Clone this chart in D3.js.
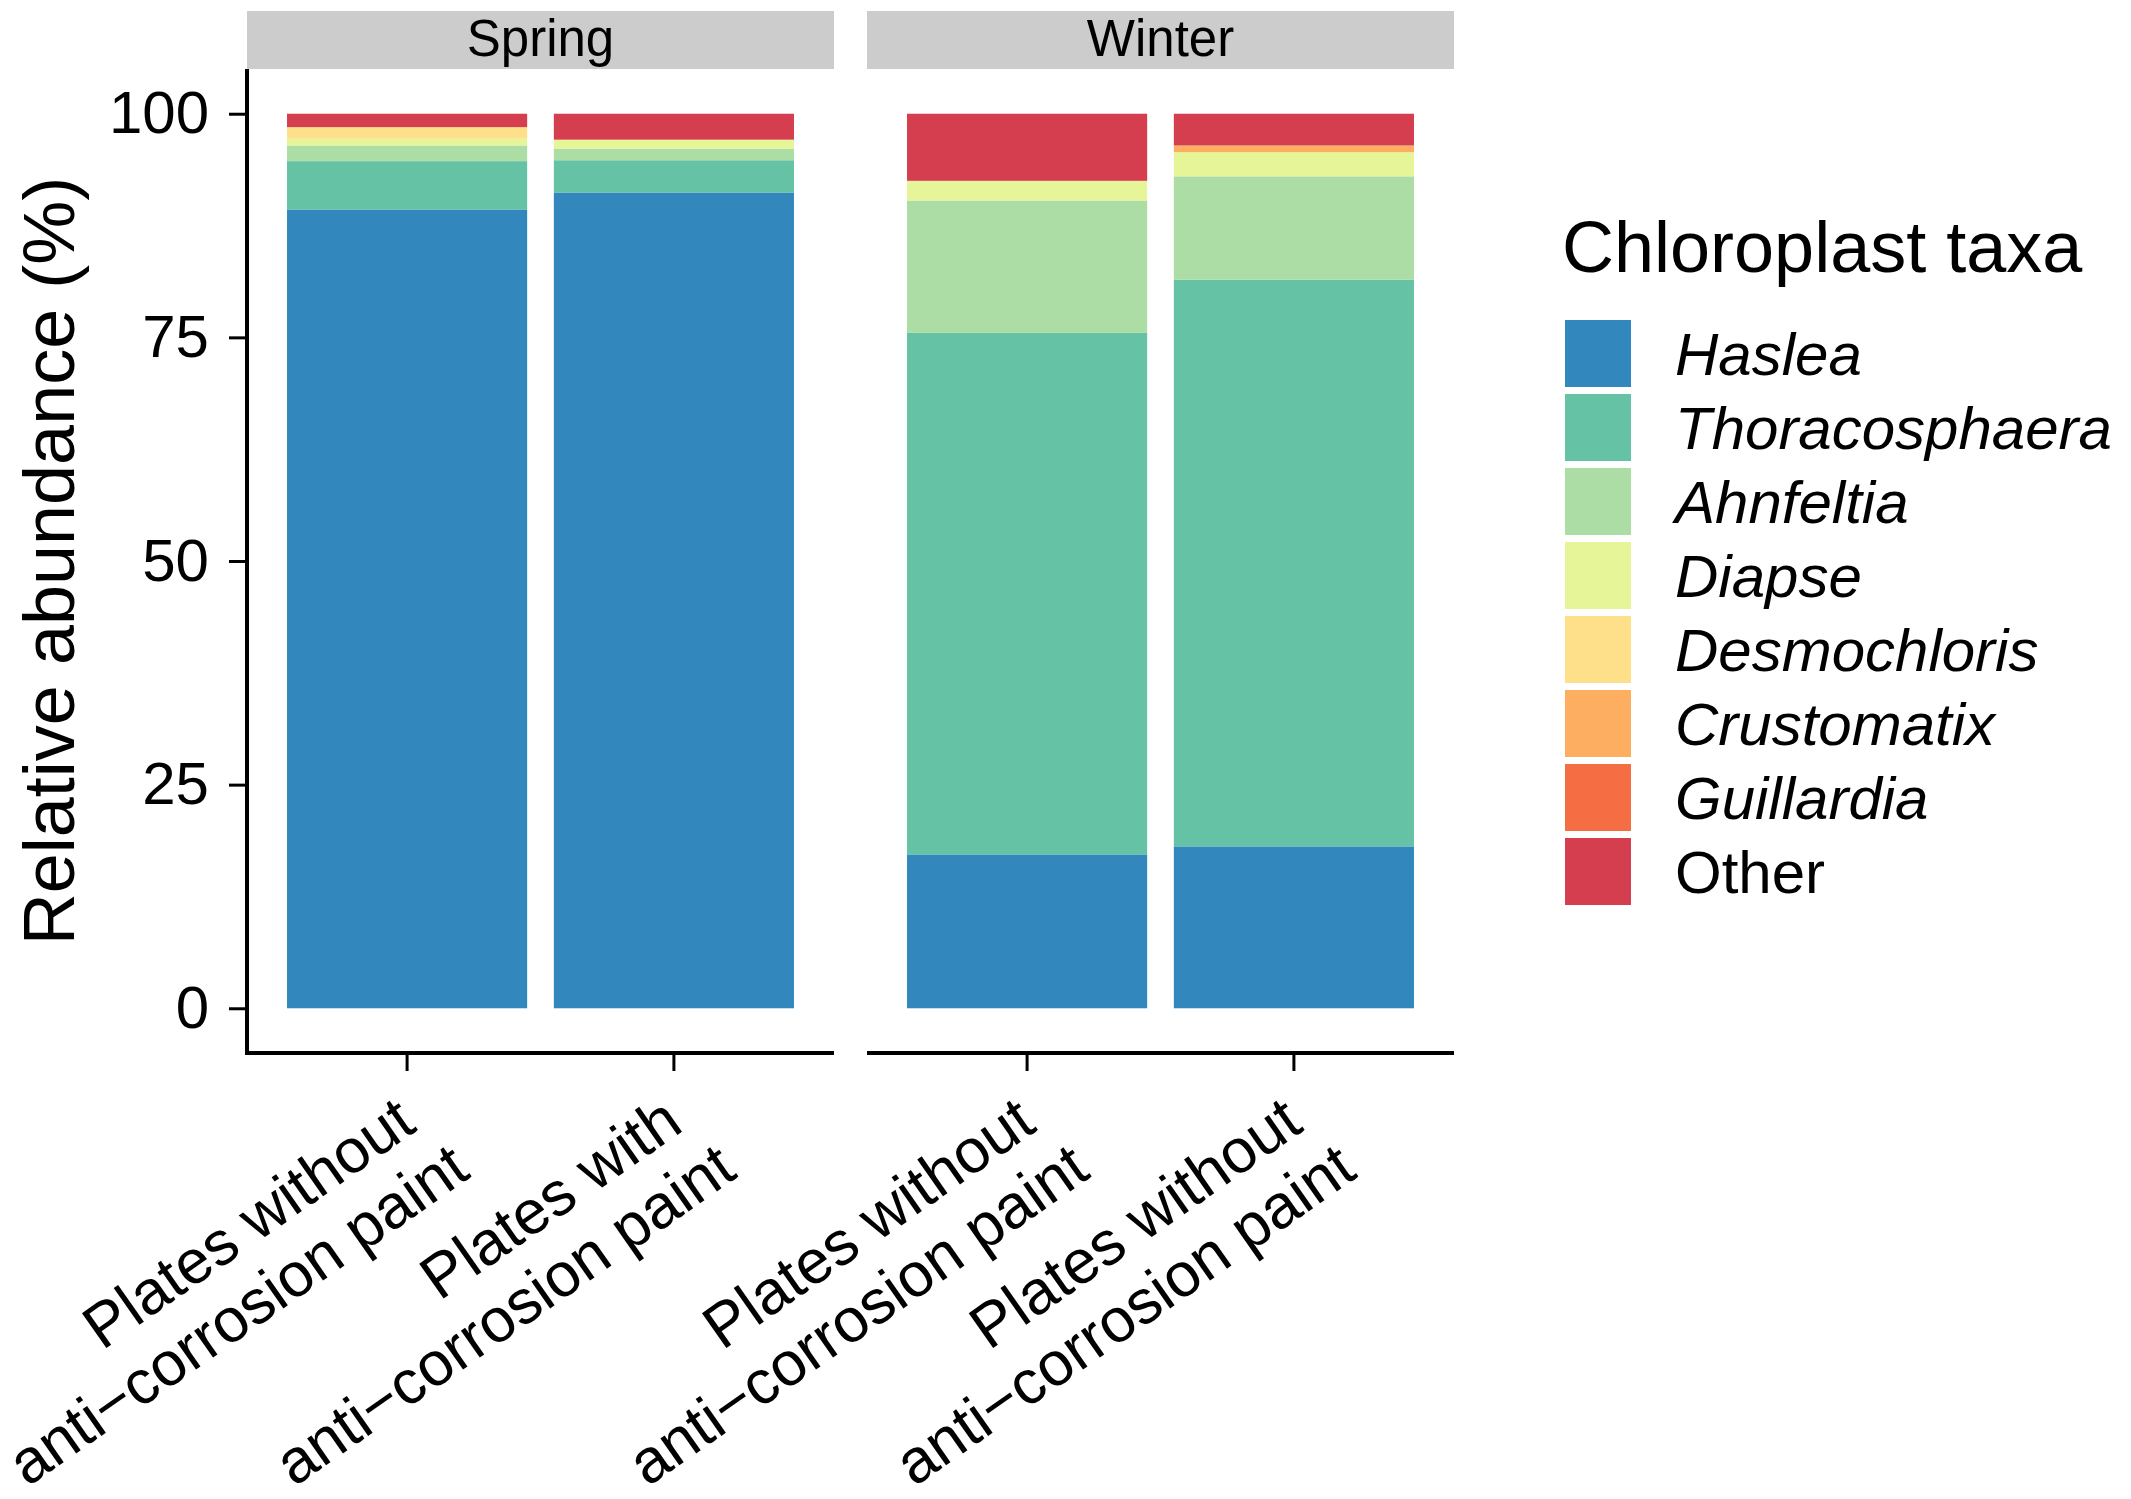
<!DOCTYPE html>
<html>
<head>
<meta charset="utf-8">
<script src="https://cdn.jsdelivr.net/npm/d3@7"></script>
<style>
  body { margin: 0; background: #fff; }
  text { font-family: "Liberation Sans", Arial, Helvetica, sans-serif; fill: #000; }
</style>
</head>
<body>
<svg id="chart"></svg>
<script>
const WIDTH = 2131;
const HEIGHT = 1499;

// data
const taxa = ["Haslea", "Thoracosphaera", "Ahnfeltia", "Diapse", "Desmochloris", "Crustomatix", "Guillardia", "Other"];
const taxaColors = ["#3288BD", "#66C2A5", "#ABDDA4", "#E6F598", "#FEE08B", "#FDAE61", "#F46D43", "#D53E4F"];
const seasons = ["Spring", "Winter"];
const sampleIds = ["SP1", "SP2", "WI1", "WI2"];
const sampleSeason = ["Spring", "Spring", "Winter", "Winter"];
// first line keeps its trailing space, as in the original labels
const sampleLabels = [
  ["Plates without ", "anti\u2212corrosion paint"],
  ["Plates with ", "anti\u2212corrosion paint"],
  ["Plates without ", "anti\u2212corrosion paint"],
  ["Plates without ", "anti\u2212corrosion paint"]
];
const haslea = [89.3, 91.2, 17.2, 18.1];
const thoracosphaera = [5.4, 3.6, 58.3, 63.35];
const ahnfeltia = [1.75, 1.3, 14.8, 11.55];
const diapse = [0.75, 1.0, 2.2, 2.7];
const desmochloris = [1.3, 0, 0, 0];
const crustomatix = [0, 0, 0, 0.75];
const guillardia = [0, 0, 0, 0];
const other = [1.5, 2.9, 7.5, 3.55];
const yTicks = [0, 25, 50, 75, 100];

const series = [haslea, thoracosphaera, ahnfeltia, diapse, desmochloris, crustomatix, guillardia, other];
const rows = sampleIds.map((id, i) => {
  const r = { id: id, season: sampleSeason[i], label: sampleLabels[i] };
  taxa.forEach((t, k) => r[t] = series[k][i]);
  return r;
});

// layout
const PANEL_LEFT = 247;
const PANEL_W = 587;
const PANEL_GAP = 33;
const PANEL_TOP = 69;
const PANEL_BOTTOM = 1053;
const STRIP_TOP = 11;
const TICK_LEN = 18;
const LINE_W = 4;

const svg = d3.select("#chart").attr("width", WIDTH).attr("height", HEIGHT);

const yScale = d3.scaleLinear().domain([-5, 105]).range([PANEL_BOTTOM, PANEL_TOP]);
const color = d3.scaleOrdinal().domain(taxa).range(taxaColors);
const stacked = d3.stack().keys(taxa)(rows);

seasons.forEach((season, p) => {
  const x0 = PANEL_LEFT + p * (PANEL_W + PANEL_GAP);
  const panelRows = rows.filter(r => r.season === season);
  const xScale = d3.scaleBand()
    .domain(panelRows.map(r => r.id))
    .range([x0, x0 + PANEL_W])
    .paddingInner(0.1)
    .paddingOuter(0.15);

  // strip
  svg.append("rect")
    .attr("x", x0).attr("y", STRIP_TOP)
    .attr("width", PANEL_W).attr("height", PANEL_TOP - STRIP_TOP)
    .attr("fill", "#CCCCCC");
  svg.append("text")
    .attr("x", x0 + PANEL_W / 2).attr("y", 56)
    .attr("text-anchor", "middle")
    .style("font-size", "51px")
    .text(season);

  // bars
  const g = svg.append("g");
  stacked.forEach(layer => {
    g.selectAll(null)
      .data(layer.filter(d => d.data.season === season && d[1] - d[0] > 0))
      .enter()
      .append("rect")
      .attr("x", d => xScale(d.data.id))
      .attr("width", xScale.bandwidth())
      .attr("y", d => yScale(d[1]))
      .attr("height", d => yScale(d[0]) - yScale(d[1]))
      .attr("fill", color(layer.key));
  });

  // x axis
  const gx = svg.append("g")
    .attr("transform", `translate(0,${PANEL_BOTTOM})`)
    .call(d3.axisBottom(xScale).tickSize(TICK_LEN).tickSizeOuter(0).tickFormat(""));
  gx.select(".domain").attr("stroke", "#000").attr("stroke-width", LINE_W)
    .attr("d", `M${x0},0H${x0 + PANEL_W}`);
  gx.selectAll(".tick line").attr("stroke", "#000").attr("stroke-width", LINE_W * 0.75);
  gx.selectAll(".tick text").remove();

  // x tick labels, rotated, right aligned
  panelRows.forEach(r => {
    const tx = xScale(r.id) + xScale.bandwidth() / 2;
    const lab = svg.append("g")
      .attr("transform", `translate(${tx - 1},${PANEL_BOTTOM + TICK_LEN + 11}) rotate(-35)`)
      .append("text")
      .attr("text-anchor", "end")
      .style("white-space", "pre")
      .style("font-size", "62px");
    r.label.forEach((line, li) => {
      lab.append("tspan")
        .attr("x", 0)
        .attr("y", 46 + li * 69)
        .text(line);
    });
  });

  // y axis only on first panel
  if (p === 0) {
    const gy = svg.append("g")
      .attr("transform", `translate(${x0},0)`)
      .call(d3.axisLeft(yScale).tickValues(yTicks).tickSize(TICK_LEN).tickSizeOuter(0).tickPadding(20));
    gy.select(".domain").attr("stroke", "#000").attr("stroke-width", LINE_W)
      .attr("d", `M0,${PANEL_TOP}V${PANEL_BOTTOM + LINE_W / 2}`);
    gy.selectAll(".tick line").attr("stroke", "#000").attr("stroke-width", LINE_W * 0.75);
    gy.selectAll(".tick text")
      .attr("fill", "#000")
      .style("font-size", "60px")
      .style("font-family", "'Liberation Sans', Arial, sans-serif");
  }
});

// y axis title
svg.append("text")
  .attr("transform", `translate(74,${(PANEL_TOP + PANEL_BOTTOM) / 2}) rotate(-90)`)
  .attr("text-anchor", "middle")
  .style("font-size", "72px")
  .text("Relative abundance (%)");

// legend
const LEG_X = 1565;
const LEG_TOP = 320;
const KEY = 66;
const KEY_STEP = 74;
svg.append("text")
  .attr("x", 1562).attr("y", 272)
  .style("font-size", "72px")
  .text("Chloroplast taxa");
const leg = svg.append("g").selectAll("g")
  .data(taxa)
  .enter()
  .append("g")
  .attr("transform", (d, i) => `translate(${LEG_X},${LEG_TOP + i * KEY_STEP})`);
leg.append("rect")
  .attr("width", KEY).attr("height", KEY + 1)
  .attr("fill", d => color(d));
leg.append("text")
  .attr("x", 110).attr("y", KEY / 2)
  .attr("dy", "0.36em")
  .style("font-size", "60px")
  .style("font-style", d => d === "Other" ? "normal" : "italic")
  .text(d => d);
</script>
</body>
</html>
